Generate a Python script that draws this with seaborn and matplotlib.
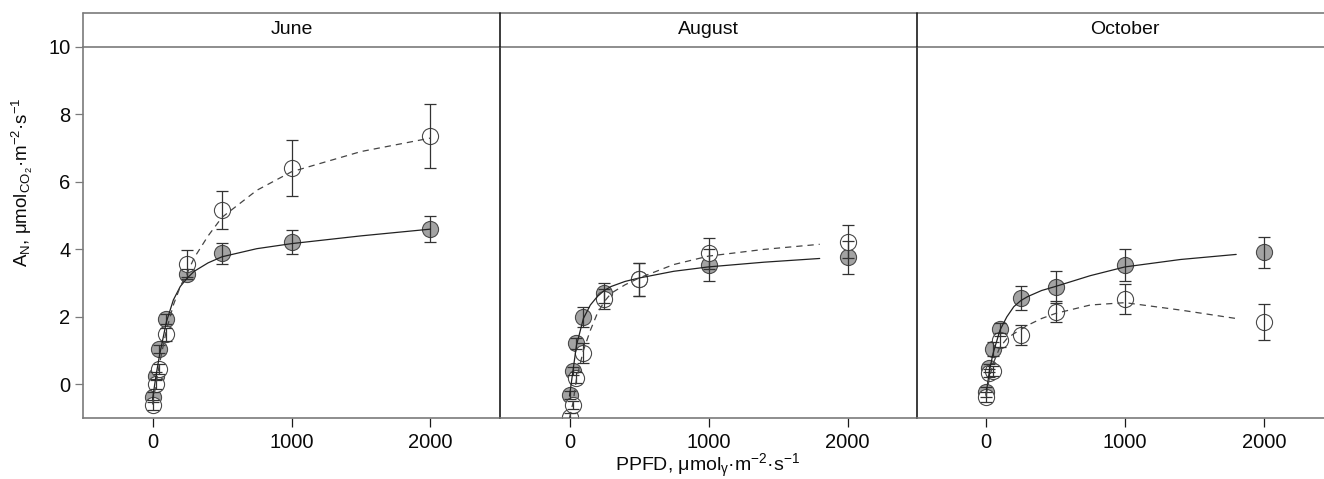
import numpy as np
import pandas as pd
import matplotlib
matplotlib.use("Agg")
import matplotlib.pyplot as plt
import seaborn as sns

sns.set_theme(style="white")
plt.rcParams["font.family"] = ["Liberation Sans", "DejaVu Sans"]
plt.rcParams["mathtext.fontset"] = "custom"
plt.rcParams["mathtext.rm"] = "Liberation Sans"
plt.rcParams["mathtext.it"] = "Liberation Sans:italic"
plt.rcParams["mathtext.default"] = "regular"

# ---------------- data ----------------
months = ["June", "August", "October"]
ppfd = [0, 25, 50, 100, 250, 500, 1000, 2000]

june_filled = [-0.37, 0.25, 1.05, 1.93, 3.26, 3.89, 4.22, 4.61]
june_filled_se = [0.15, 0.12, 0.12, 0.15, 0.15, 0.31, 0.35, 0.38]
june_open = [-0.61, 0.00, 0.45, 1.48, 3.58, 5.16, 6.42, 7.36]
june_open_se = [0.15, 0.15, 0.15, 0.20, 0.40, 0.57, 0.83, 0.94]

aug_filled = [-0.32, 0.39, 1.21, 2.00, 2.70, 3.11, 3.53, 3.77]
aug_filled_se = [0.12, 0.12, 0.15, 0.30, 0.30, 0.50, 0.47, 0.49]
aug_open = [-0.96, -0.61, 0.20, 0.92, 2.53, 3.11, 3.88, 4.23]
aug_open_se = [0.10, 0.12, 0.15, 0.30, 0.30, 0.50, 0.45, 0.50]

oct_filled = [-0.22, 0.49, 1.05, 1.63, 2.55, 2.89, 3.53, 3.91]
oct_filled_se = [0.15, 0.12, 0.20, 0.20, 0.36, 0.47, 0.47, 0.47]
oct_open = [-0.37, 0.34, 0.39, 1.31, 1.46, 2.15, 2.52, 1.84]
oct_open_se = [0.15, 0.12, 0.15, 0.20, 0.30, 0.31, 0.45, 0.53]

# fitted curves
june_fit_x = [0, 25, 50, 100, 150, 200, 250, 300, 400, 500, 750, 1000, 1500, 2000]
june_fit_solid = [-0.45, 0.25, 0.85, 1.85, 2.5, 2.9, 3.15, 3.35, 3.6, 3.78, 4.02, 4.17, 4.4, 4.6]
june_fit_dashed = [-0.6, 0.0, 0.6, 1.6, 2.35, 2.9, 3.3, 3.75, 4.4, 4.95, 5.75, 6.3, 6.9, 7.3]

aug_fit_x = [0, 25, 50, 100, 150, 200, 250, 300, 400, 500, 750, 1000, 1400, 1800]
aug_fit_solid = [-0.35, 0.4, 1.15, 1.95, 2.35, 2.6, 2.78, 2.9, 3.05, 3.15, 3.35, 3.48, 3.62, 3.73]
aug_fit_dashed = [-1.0, -0.55, 0.15, 1.0, 1.6, 2.1, 2.45, 2.7, 2.95, 3.15, 3.55, 3.8, 4.0, 4.15]

oct_fit_x = [0, 25, 50, 100, 150, 200, 250, 300, 400, 500, 750, 1000, 1400, 1800]
oct_fit_solid = [-0.3, 0.4, 0.9, 1.6, 2.0, 2.3, 2.48, 2.6, 2.78, 2.9, 3.22, 3.48, 3.7, 3.85]
oct_fit_dashed = [-0.35, 0.2, 0.6, 1.1, 1.35, 1.5, 1.62, 1.75, 1.95, 2.1, 2.35, 2.42, 2.2, 1.95]

panels = [
    (june_filled, june_filled_se, june_open, june_open_se, june_fit_x, june_fit_solid, june_fit_dashed),
    (aug_filled, aug_filled_se, aug_open, aug_open_se, aug_fit_x, aug_fit_solid, aug_fit_dashed),
    (oct_filled, oct_filled_se, oct_open, oct_open_se, oct_fit_x, oct_fit_solid, oct_fit_dashed),
]

# ---------------- figure ----------------
W, H = 1324, 479
fig = plt.figure(figsize=(W / 100, H / 100), dpi=100)

ax_left_px = [83, 500, 916.5]
ax_w_px = 417
ax_top_px, ax_bot_px = 47, 418
strip_top_px = 13
ax_h_px = ax_bot_px - ax_top_px
strip_h = (ax_top_px - strip_top_px) / ax_h_px

gray_line = "#7a7a7a"
dark_line = "#1a1a1a"
fill_col = "#a3a3a3"
edge_col = "#4a4a4a"
err_col = "#333333"
text_col = "#0a0a0a"

for i, (month, pdata) in enumerate(zip(months, panels)):
    f, fse, o, ose, fx, fs, fd = pdata
    ax = fig.add_axes([ax_left_px[i] / W, 1 - ax_bot_px / H, ax_w_px / W, ax_h_px / H])
    ax.set_facecolor("none")

    df_f = pd.DataFrame({"PPFD": ppfd, "A": f})
    df_o = pd.DataFrame({"PPFD": ppfd, "A": o})
    sns.scatterplot(data=df_f, x="PPFD", y="A", ax=ax, s=135, color=fill_col,
                    edgecolor=edge_col, linewidth=0.8, zorder=2, legend=False)
    sns.scatterplot(data=df_o, x="PPFD", y="A", ax=ax, s=135, color="white",
                    edgecolor=edge_col, linewidth=0.8, zorder=2.1, legend=False)
    ax.errorbar(ppfd, f, yerr=fse, fmt="none", ecolor=err_col, elinewidth=0.9,
                capsize=4, capthick=0.9, zorder=3)
    ax.errorbar(ppfd, o, yerr=ose, fmt="none", ecolor=err_col, elinewidth=0.9,
                capsize=4, capthick=0.9, zorder=3)
    sns.lineplot(x=fx, y=fs, ax=ax, color="#222222", linewidth=0.9, sort=False,
                 estimator=None, zorder=4)
    sns.lineplot(x=fx, y=fd, ax=ax, color="#444444", linewidth=0.9, sort=False,
                 estimator=None, linestyle=(0, (5, 4)), zorder=4)

    ax.set_xlim(-500, 2500)
    ax.set_ylim(-1, 10)
    ax.set_xticks([0, 1000, 2000])
    ax.set_xticklabels(["0", "1000", "2000"])
    ax.set_yticks([0, 2, 4, 6, 8, 10])
    ax.set_xlabel("")
    ax.set_ylabel("")
    ax.tick_params(axis="x", direction="out", length=6.5, width=0.9, color=dark_line,
                   labelsize=14.5, pad=4, bottom=True, labelcolor=text_col)
    if i == 0:
        ax.tick_params(axis="y", direction="out", length=6, width=0.9, color=gray_line,
                       labelsize=14.5, pad=3, left=True, labelcolor=text_col)
    else:
        ax.tick_params(axis="y", left=False, labelleft=False)

    left_col = gray_line if i == 0 else dark_line
    for side, sp in ax.spines.items():
        sp.set_linewidth(1.2)
    ax.spines["top"].set_color(gray_line)
    ax.spines["bottom"].set_color(gray_line)
    ax.spines["left"].set_color(left_col)
    ax.spines["right"].set_visible(False)

    # strip
    ax.plot([0, 1], [1 + strip_h, 1 + strip_h], transform=ax.transAxes, color=gray_line,
            lw=1.2, clip_on=False, zorder=5)
    ax.plot([0, 0], [1, 1 + strip_h], transform=ax.transAxes, color=left_col,
            lw=1.2, clip_on=False, zorder=5)
    ax.text(0.5, 1 + strip_h / 2, month, transform=ax.transAxes, ha="center",
            va="center", fontsize=14, color=text_col)

fig.text(708 / W, 1 - 466 / H,
         "PPFD, μmol$_{γ}$·m$^{-2}$·s$^{-1}$",
         ha="center", va="center", fontsize=14, color=text_col)
fig.text(22 / W, 1 - 182 / H,
         "A$_{N}$, μmol$_{CO_2}$·m$^{-2}$·s$^{-1}$",
         ha="center", va="center", rotation=90, fontsize=13.5, color=text_col)

fig.savefig("out.png", dpi=100)
